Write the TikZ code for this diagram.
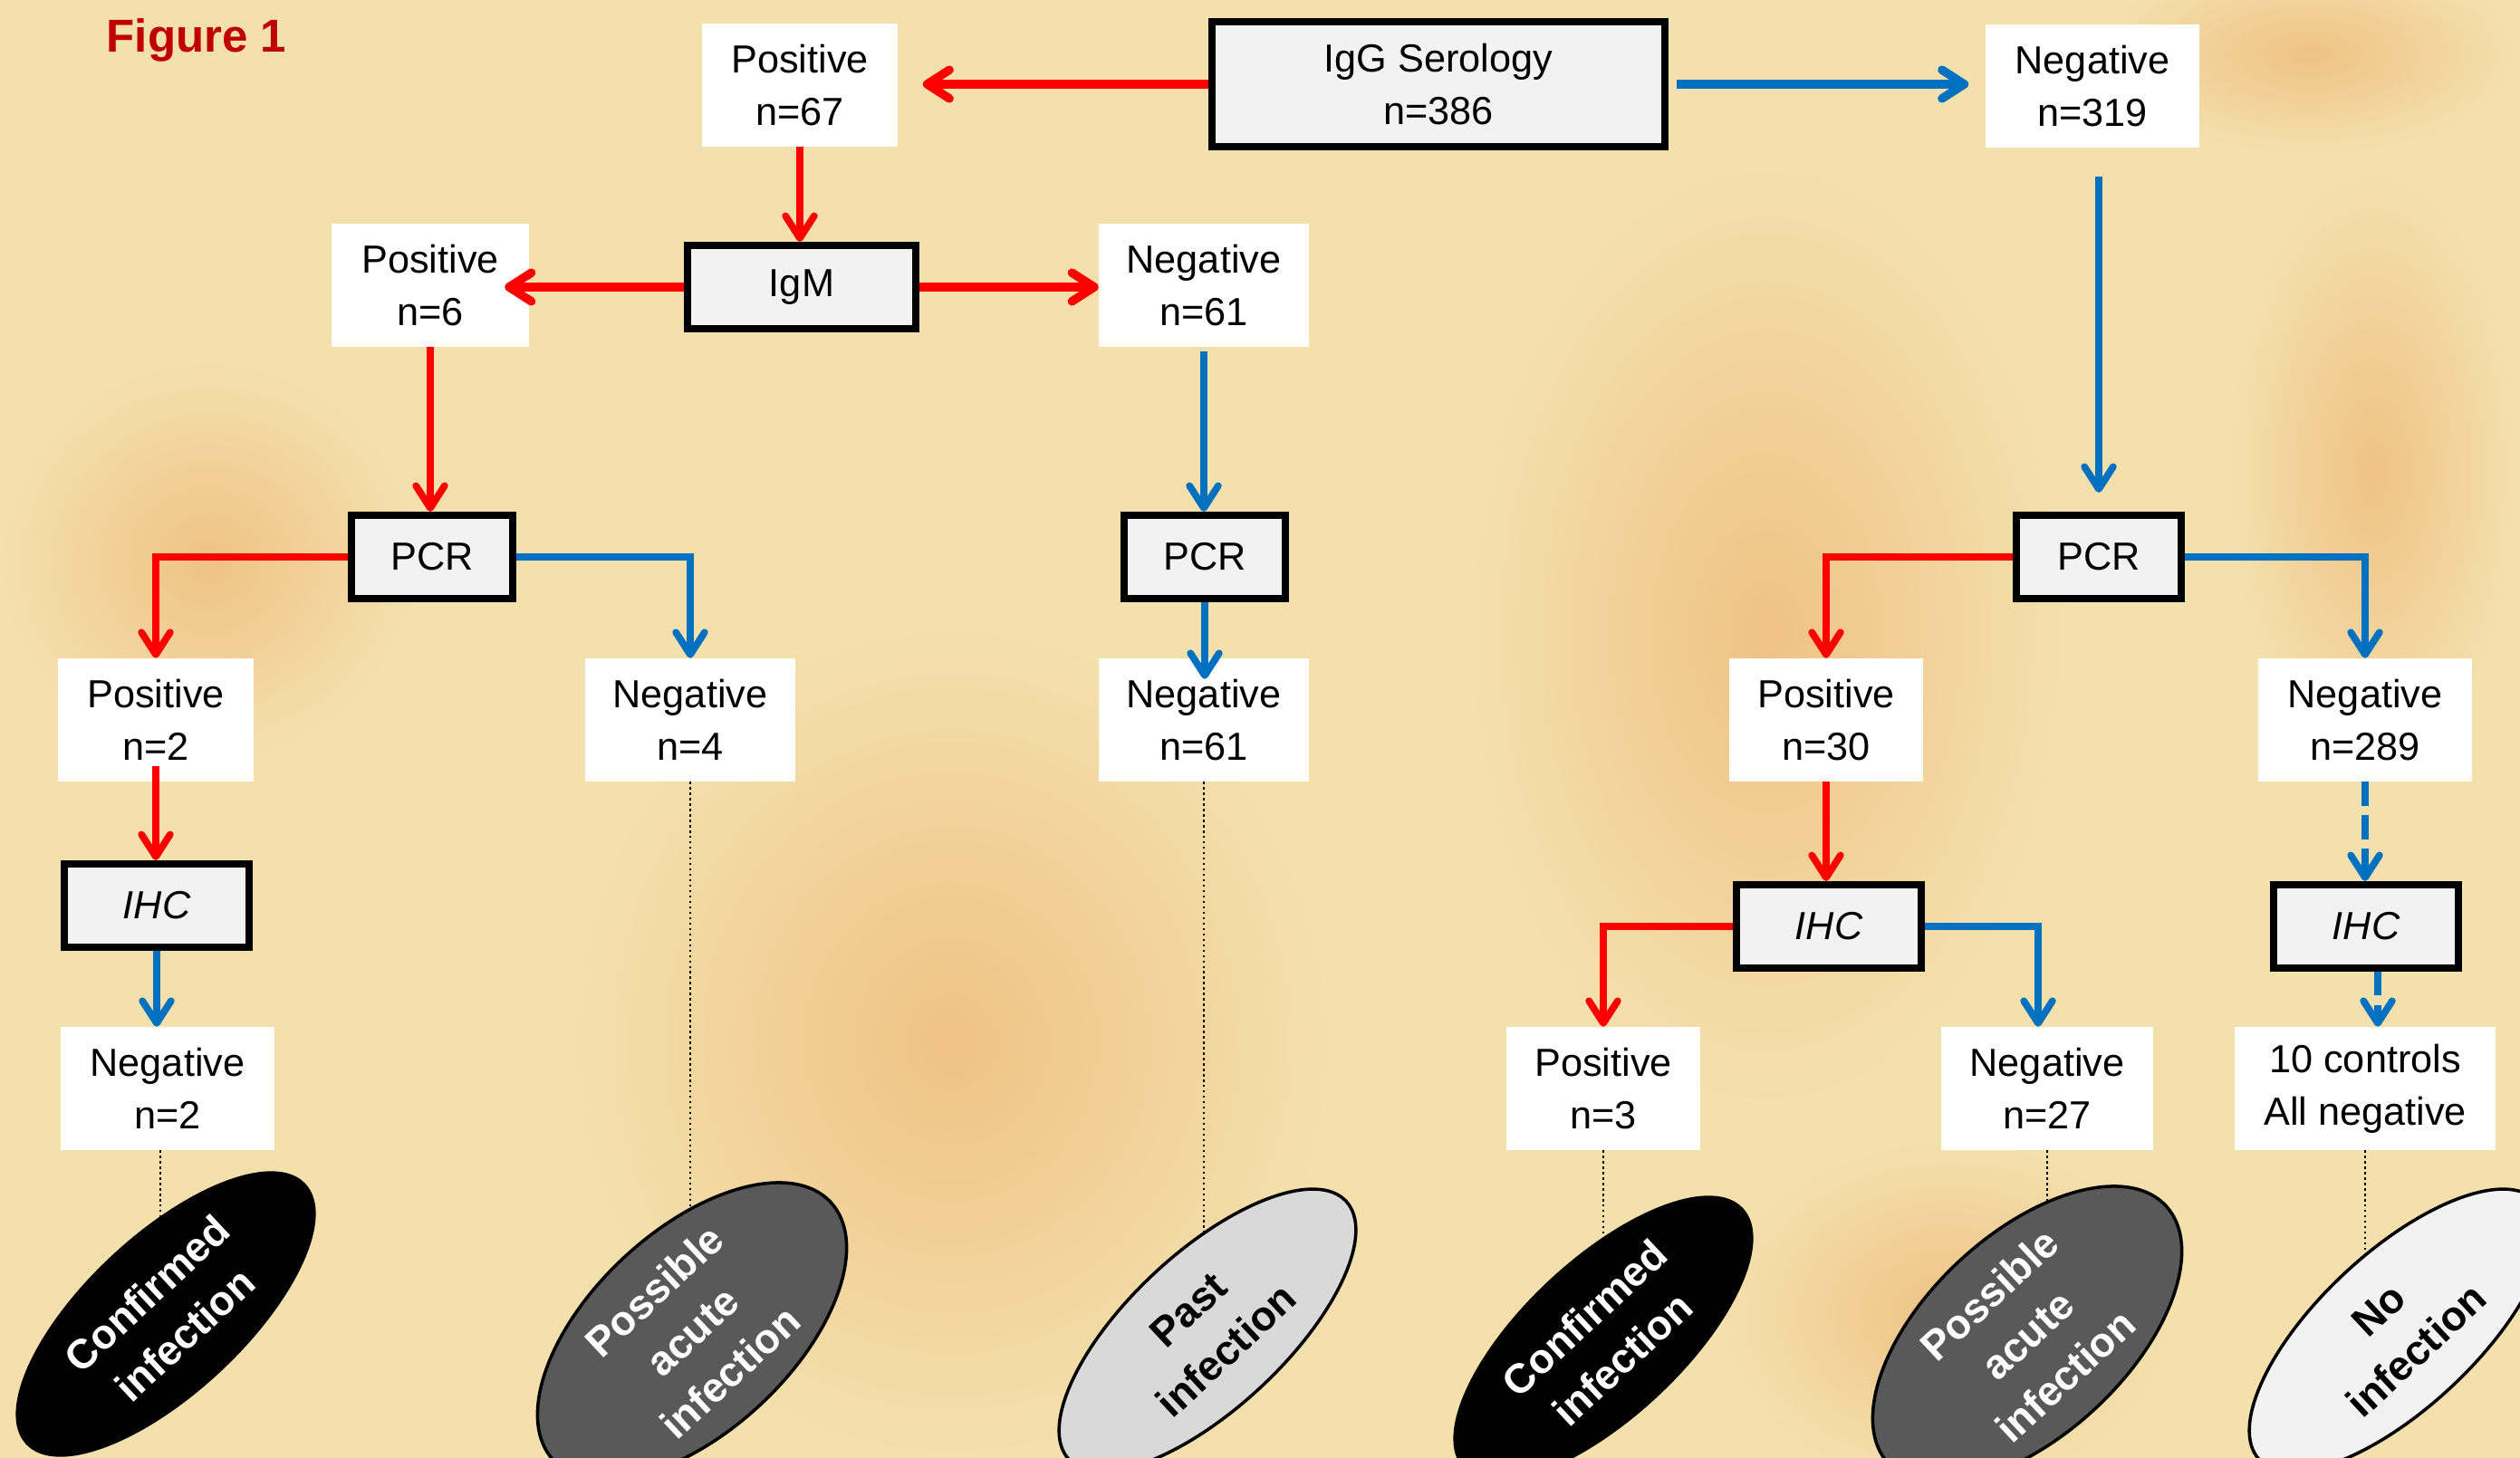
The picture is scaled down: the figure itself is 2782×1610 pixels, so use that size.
\documentclass[tikz,border=0pt]{standalone}
\usepackage{fontspec}
\setmainfont{Liberation Sans}
\usetikzlibrary{arrows.meta,shapes.geometric,calc}
\definecolor{bgbase}{HTML}{F4E0AC}
\definecolor{blob}{HTML}{EFC285}
\definecolor{figred}{HTML}{C00000}
\definecolor{arrred}{HTML}{FF0000}
\definecolor{arrblue}{HTML}{0070C0}
\definecolor{boxgray}{HTML}{F2F2F2}
\definecolor{possgray}{HTML}{595959}
\definecolor{pastgray}{HTML}{D9D9D9}
\pgfdeclarelayer{back}
\pgfdeclarelayer{mid}
\pgfsetlayers{back,mid,main}
\tikzset{
  wbox/.style={fill=white, align=center, inner sep=0pt, minimum height=1.35cm,
    font=\fontsize{12.3}{16.5}\selectfont},
  gbox/.style={fill=boxgray, draw=black, line width=2.3pt, align=center, inner sep=0pt,
    minimum height=0.92cm, font=\fontsize{12.3}{16.5}\selectfont},
  ihcbox/.style={gbox, minimum width=2.04cm, font=\fontsize{12.3}{16.5}\selectfont\itshape},
  arrowtip/.style={-{Straight Barb[length=7pt,width=9pt,round]}},
  redarr/.style={draw=arrred, line width=2.2pt, arrowtip},
  bluearr/.style={draw=arrblue, line width=2.2pt, arrowtip},
  toparr/.style={line width=2.7pt},
  dashblue/.style={dash pattern=on 7.5pt off 3pt},
  outcome/.style={ellipse, draw=black, line width=1pt, minimum width=4.18cm,
    minimum height=1.72cm, rotate=43, inner sep=0pt, align=center,
    font=\bfseries\fontsize{13}{17.5}\selectfont},
  dotline/.style={draw=black, line width=0.7pt, densely dotted},
}
\begin{document}
\begin{tikzpicture}[x=0.01cm,y=-0.01cm]
\useasboundingbox (0,0) rectangle (2782,1610);
\begin{pgfonlayer}{back}
  \fill[bgbase] (0,0) rectangle (2782,1610);
  \shade[inner color=blob, outer color=bgbase] (1050,1150) ellipse (420 and 460);
  \shade[inner color=blob, outer color=bgbase] (1950,700) ellipse (330 and 520);
  \shade[inner color=blob, outer color=bgbase] (2620,520) ellipse (160 and 330);
  \shade[inner color=blob, outer color=bgbase] (2550,60) ellipse (230 and 110);
  \shade[inner color=blob, outer color=bgbase] (230,620) ellipse (230 and 220);
  \shade[inner color=blob, outer color=bgbase] (2150,1450) ellipse (250 and 190);
\end{pgfonlayer}
\clip (0,0) rectangle (2782,1610);

% title
\node[anchor=base west, inner sep=0pt, text=figred, font=\bfseries\fontsize{14.5}{17}\selectfont] (title) at (117,58) {Figure 1};

% boxes
\node[gbox, minimum width=4.99cm, minimum height=1.38cm] (igg) at (1588,93) {IgG Serology\\n=386};
\node[wbox, minimum width=2.16cm] (pos67) at (883,94) {Positive\\n=67};
\node[wbox, minimum width=2.36cm] (neg319) at (2310,95) {Negative\\n=319};
\node[gbox, minimum width=2.51cm] (igm) at (885,317) {IgM};
\node[wbox, minimum width=2.17cm] (pos6) at (475,315) {Positive\\n=6};
\node[wbox, minimum width=2.31cm] (neg61a) at (1329,315) {Negative\\n=61};
\node[gbox, minimum width=1.78cm] (pcr1) at (477,615) {PCR};
\node[gbox, minimum width=1.78cm] (pcr2) at (1330,615) {PCR};
\node[gbox, minimum width=1.82cm] (pcr3) at (2317,615) {PCR};
\node[wbox, minimum width=2.16cm] (pos2) at (172,795) {Positive\\n=2};
\node[wbox, minimum width=2.32cm] (neg4) at (762,795) {Negative\\n=4};
\node[wbox, minimum width=2.32cm] (neg61b) at (1329,795) {Negative\\n=61};
\node[wbox, minimum width=2.14cm] (pos30) at (2016,795) {Positive\\n=30};
\node[wbox, minimum width=2.35cm] (neg289) at (2611,795) {Negative\\n=289};
\node[ihcbox] (ihc1) at (173,1000) {IHC};
\node[ihcbox] (ihc2) at (2019,1023) {IHC};
\node[ihcbox] (ihc3) at (2612,1023) {IHC};
\node[wbox, minimum width=2.35cm] (neg2) at (185,1202) {Negative\\n=2};
\node[wbox, minimum width=2.14cm] (pos3) at (1770,1202) {Positive\\n=3};
\node[wbox, minimum width=2.34cm] (neg27) at (2260,1202) {Negative\\n=27};
\node[wbox, minimum width=2.88cm] (ctrl) at (2611,1202) {10 controls\\All negative};

% outcomes
\node[outcome, fill=black, text=white] (conf1) at (183,1451) {Confirmed\\infection};
\node[outcome, fill=possgray, text=white] (poss1) at (764,1470) {Possible\\acute\\infection};
\node[outcome, fill=pastgray] (past) at (1333,1469) {Past\\infection};
\node[outcome, fill=black, text=white] (conf2) at (1770,1478) {Confirmed\\infection};
\node[outcome, fill=possgray, text=white] (poss2) at (2238,1474) {Possible\\acute\\infection};
\node[outcome, fill=boxgray] (noinf) at (2647,1469) {No\\infection};

% connectors
\draw[redarr, toparr, shorten >=0.27cm] (igg.west) -- (igg.west -| pos67.east);
\draw[bluearr, toparr, shorten <=0.09cm, shorten >=0.18cm] (igg.east) -- (igg.east -| neg319.west);
\draw[redarr] (pos67.south) -- (pos67.south |- igm.north);
\draw[redarr, toparr] (igm.west) -- ($(igm.west -| pos6.east)+(-27,0)$);
\draw[redarr, toparr] (igm.east) -- (igm.east -| neg61a.west);
\draw[redarr] (pos6.south) -- (pos6.south |- pcr1.north);
\draw[bluearr, shorten <=0.05cm] (neg61a.south) -- (neg61a.south |- pcr2.north);
\draw[bluearr, shorten <=0.32cm, shorten >=0.21cm] (neg319.south -| pcr3.north) -- (pcr3.north);
\draw[redarr] (pcr1.west) -| (pos2.north);
\draw[bluearr] (pcr1.east) -| (neg4.north);
\draw[bluearr] (pcr2.south) -- ($(pcr2.south |- neg61b.north)+(0,23)$);
\draw[redarr] (pcr3.west) -| (pos30.north);
\draw[bluearr] (pcr3.east) -| (neg289.north);
\draw[redarr] ($(pos2.south)+(0,-17)$) -- (pos2.south |- ihc1.north);
\draw[bluearr] (ihc1.south) -- (ihc1.south |- neg2.north);
\draw[redarr] (pos30.south) -- (pos30.south |- ihc2.north);
\draw[bluearr, dashblue] (neg289.south) -- (neg289.south |- ihc3.north);
\draw[redarr] (ihc2.west) -| (pos3.north);
\draw[bluearr] (ihc2.east) -| ($(neg27.north)+(-10,0)$);
\draw[bluearr, dashblue] ($(ihc3.south)+(13,0)$) -- ($(ihc3.south |- ctrl.north)+(13,0)$);

\begin{pgfonlayer}{mid}
  \draw[dotline] ($(neg2.south)+(-8,0)$) -- ($(neg2.south |- conf1.center)+(-8,0)$);
  \draw[dotline] (neg4.south) -- (neg4.south |- poss1.center);
  \draw[dotline] (neg61b.south) -- (neg61b.south |- past.center);
  \draw[dotline] (pos3.south) -- (pos3.south |- conf2.center);
  \draw[dotline] (neg27.south) -- (neg27.south |- poss2.center);
  \draw[dotline] (ctrl.south) -- (ctrl.south |- noinf.center);
\end{pgfonlayer}
\end{tikzpicture}
\end{document}
